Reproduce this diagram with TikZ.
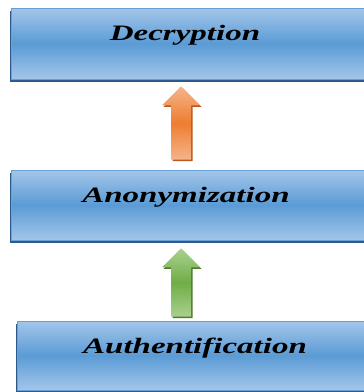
\documentclass[tikz,border=0pt]{standalone}
\usepackage{fontspec}
\setmainfont{Liberation Serif}
\usepackage{graphicx}
\usepackage{tikz}
\usetikzlibrary{calc,shadows}
\definecolor{layerlight}{HTML}{A3C6E9}
\definecolor{layermid}{HTML}{5B9BD5}
\definecolor{layeredge}{HTML}{6A9FD6}
\definecolor{layershadow}{HTML}{2C5A8C}
\definecolor{orangelight}{HTML}{F6B48A}
\definecolor{orangemid}{HTML}{ED7D31}
\definecolor{orangedark}{HTML}{B85A1E}
\definecolor{greenlight}{HTML}{A9D18E}
\definecolor{greenmid}{HTML}{70AD47}
\definecolor{greendark}{HTML}{4E7A31}

\tikzset{
  layer/.style={rectangle,draw=layeredge,line width=0.8pt,inner sep=0pt,
    top color=layerlight,bottom color=layerlight,middle color=layermid,
    drop shadow={shadow xshift=-1pt,shadow yshift=-2.5pt,fill=layershadow,opacity=1}},
  layertext/.style={anchor=base,inner sep=0pt,font=\fontsize{22}{26}\selectfont\bfseries\itshape},
  orangearrow/.style={top color=orangelight,bottom color=orangelight,middle color=orangemid,
    drop shadow={shadow xshift=1.5pt,shadow yshift=-1.5pt,fill=orangedark,opacity=1}},
  greenarrow/.style={top color=greenlight,bottom color=greenlight,middle color=greenmid,
    drop shadow={shadow xshift=1.5pt,shadow yshift=-1.5pt,fill=greendark,opacity=1}}
}
% fat block arrow from tail #2 up to tip #3
\newcommand{\layerarrow}[3]{%
  \path[#1] let \p1=#2, \p2=#3 in
    (\x1-10pt,\y1) -- (\x1+10pt,\y1) -- (\x1+10pt,\y2-19pt) -- (\x1+19pt,\y2-19pt)
    -- (\x1,\y2) -- (\x1-19pt,\y2-19pt) -- (\x1-10pt,\y2-19pt) -- cycle;}

\begin{document}
\begin{tikzpicture}[x=1pt,y=-1pt]
    \useasboundingbox (0,0) rectangle (364,392);
    % the three layers
    \node[layer,minimum width=360pt,minimum height=71pt] (decr) at (191,43.5) {};
    \node[layer,minimum width=360pt,minimum height=70pt] (anon) at (191,205) {};
    \node[layer,minimum width=354pt,minimum height=69pt] (auth) at (194,355.5) {};
    \node[layertext] (decrtext) at ([xshift=-6pt,yshift=3.5pt]decr.center) {\scalebox{1.5}[1]{Decryption}};
    \node[layertext] (anontext) at ([xshift=-5pt,yshift=3pt]anon.center) {\scalebox{1.5}[1]{Anonymization}};
    \node[layertext] (authtext) at ([xshift=1pt,yshift=2.5pt]auth.center) {\scalebox{1.5}[1]{Authentification}};
    % arrows between layers
    \layerarrow{orangearrow}{([xshift=-10pt,yshift=10pt]anon.north)}{([xshift=-10pt,yshift=-7pt]decr.south)}
    \layerarrow{greenarrow}{([xshift=-13pt,yshift=4pt]auth.north)}{([xshift=-10pt,yshift=-8pt]anon.south)}
\end{tikzpicture}
\end{document}
